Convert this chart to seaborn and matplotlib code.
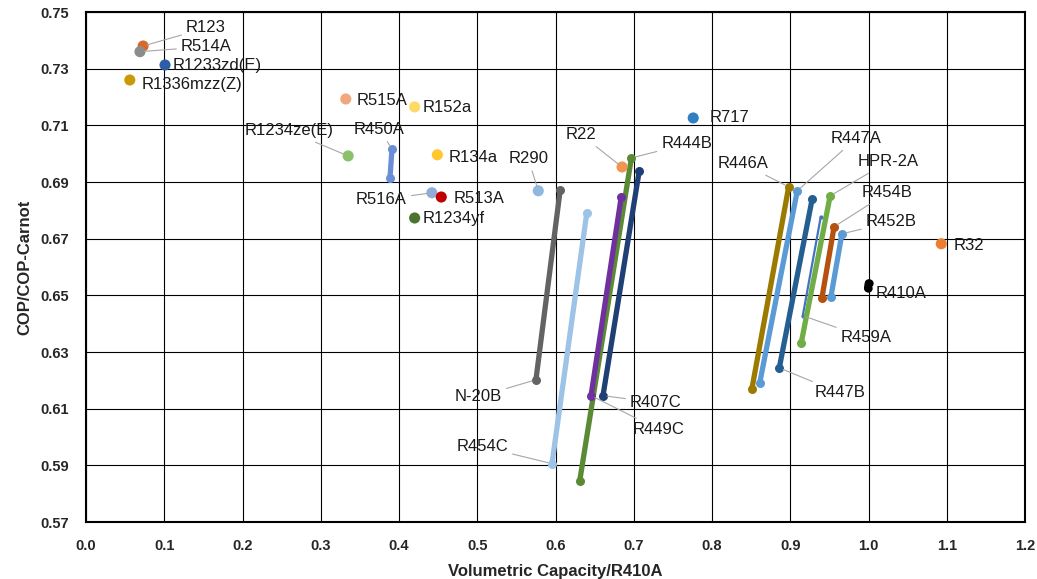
import pandas as pd
import matplotlib.pyplot as plt
import seaborn as sns

sns.set_theme(style="white")
plt.rcParams['font.family'] = ['Liberation Sans', 'DejaVu Sans']

# single refrigerants (points)
pt_names = ['R123', 'R514A', 'R1233zd(E)', 'R1336mzz(Z)', 'R515A', 'R152a', 'R1234ze(E)',
            'R134a', 'R516A', 'R513A', 'R1234yf', 'R290', 'R22', 'R717', 'R32']
pt_cap = [0.073, 0.069, 0.101, 0.056, 0.332, 0.420, 0.335,
          0.449, 0.442, 0.454, 0.420, 0.578, 0.685, 0.776, 1.093]
pt_cop = [0.738, 0.736, 0.7313, 0.726, 0.7193, 0.7165, 0.6992,
          0.6996, 0.6862, 0.6847, 0.6773, 0.6869, 0.6953, 0.7126, 0.6682]
pt_colors = ['#D9692B', '#8C8C8C', '#2E5DA8', '#C99A06', '#F0A77D', '#FFD966', '#8CC16B',
             '#FFC62E', '#93ABD9', '#C00000', '#4C7330', '#8FB8E0', '#F29552', '#2F7FC1', '#ED7D31']

# blends (glide lines: top end / bottom end)
ln_names = ['R450A', 'N-20B', 'R454C', 'R444B', 'R449C', 'R407C', 'R446A', 'R447A',
            'R447B', 'R459A', 'HPR-2A', 'R454B', 'R452B', 'R410A']
ln_cap_top = [0.391, 0.606, 0.640, 0.697, 0.684, 0.707, 0.898, 0.909,
              0.928, 0.939, 0.951, 0.956, 0.966, 1.000]
ln_cop_top = [0.7017, 0.6872, 0.6791, 0.6985, 0.6847, 0.6939, 0.6883, 0.6869,
              0.6840, 0.6777, 0.6851, 0.6742, 0.6717, 0.6543]
ln_cap_bot = [0.3885, 0.575, 0.5955, 0.631, 0.6454, 0.6607, 0.851, 0.861,
              0.886, 0.916, 0.914, 0.9405, 0.952, 0.999]
ln_cop_bot = [0.6914, 0.6202, 0.5906, 0.5846, 0.6146, 0.6146, 0.6170, 0.6191,
              0.6244, 0.6428, 0.6332, 0.6491, 0.6495, 0.6525]
ln_colors = ['#6A8FD4', '#636363', '#9DC3E6', '#5A8A34', '#7030A0', '#1F3F75', '#9C7A00', '#5B9BD5',
             '#255E91', '#4472C4', '#70AD47', '#B5520F', '#5B9BD5', '#000000']

x_ticks = [0.0, 0.1, 0.2, 0.3, 0.4, 0.5, 0.6, 0.7, 0.8, 0.9, 1.0, 1.1, 1.2]
y_ticks = [0.57, 0.59, 0.61, 0.63, 0.65, 0.67, 0.69, 0.71, 0.73, 0.75]

# label placement: (end of line to anchor, dx px, dy px, align, leader line)
labels = {
    'R123': ('top', 43, 18, 'left', True),
    'R514A': ('top', 41, 5, 'left', True),
    'R1233zd(E)': ('top', 8, -1, 'left', False),
    'R1336mzz(Z)': ('top', 12, -5, 'left', False),
    'R515A': ('top', 11, -2, 'left', False),
    'R152a': ('top', 8, -1, 'left', False),
    'R1234ze(E)': ('top', -15, 25, 'right', True),
    'R450A': ('top', -38, 19, 'left', True),
    'R134a': ('top', 11, -3, 'left', False),
    'R516A': ('top', -25, -7, 'right', True),
    'R513A': ('top', 12, -1, 'left', False),
    'R1234yf': ('top', 8, -1, 'left', False),
    'R290': ('top', -30, 32, 'left', True),
    'R22': ('top', -56, 32, 'left', True),
    'R444B': ('top', 30, 14, 'left', True),
    'R717': ('top', 16, 0, 'left', False),
    'R446A': ('top', -71, 23, 'left', True),
    'R447A': ('top', 33, 52, 'left', True),
    'HPR-2A': ('top', 27, 34, 'left', True),
    'R454B': ('top', 28, 34, 'left', True),
    'R452B': ('top', 24, 12, 'left', True),
    'R32': ('top', 12, -2, 'left', False),
    'R410A': ('bot', 8, -5, 'left', False),
    'R459A': ('bot', 38, -22, 'left', True),
    'R447B': ('bot', 35, -25, 'left', True),
    'N-20B': ('bot', -34, -17, 'right', True),
    'R407C': ('bot', 27, -7, 'left', True),
    'R449C': ('bot', 42, -34, 'left', True),
    'R454C': ('bot', -44, 17, 'right', True),
}

fig = plt.figure(figsize=(10.37, 5.79), dpi=100)
ax = fig.add_axes([86 / 1037, 1 - 522 / 579, 939 / 1037, 510 / 579])

for i, name in enumerate(ln_names):
    lw, ms = 3.8, 6.5
    if name == 'R459A':
        lw, ms = 1.6, 3
    elif name == 'R410A':
        lw, ms = 5.5, 6
    sns.lineplot(x=[ln_cap_bot[i], ln_cap_top[i]], y=[ln_cop_bot[i], ln_cop_top[i]],
                 estimator=None, sort=False,
                 color=ln_colors[i], lw=lw, marker='o', markersize=ms, markeredgewidth=0,
                 solid_capstyle='round', ax=ax, zorder=3)

pts = pd.DataFrame({'name': pt_names, 'cap': pt_cap, 'cop': pt_cop})
sns.scatterplot(data=pts, x='cap', y='cop', hue='name', palette=dict(zip(pt_names, pt_colors)),
                s=64, edgecolor='none', legend=False, ax=ax, zorder=4)

anchors = {n: {'top': (x, y), 'bot': (x, y)} for n, x, y in zip(pt_names, pt_cap, pt_cop)}
for i, n in enumerate(ln_names):
    anchors[n] = {'top': (ln_cap_top[i], ln_cop_top[i]), 'bot': (ln_cap_bot[i], ln_cop_bot[i])}

for name, (end, dx, dy, ha, leader) in labels.items():
    arrow = dict(arrowstyle='-', color='#A6A6A6', lw=0.8, shrinkA=1, shrinkB=3) if leader else None
    ax.annotate(name, xy=anchors[name][end], xytext=(dx, dy), textcoords='offset pixels',
                ha=ha, va='center', fontsize=12, color='#1A1A1A', arrowprops=arrow, zorder=5)

ax.set_xlim(0, 1.2)
ax.set_ylim(0.57, 0.75)
ax.set_xticks(x_ticks)
ax.set_yticks(y_ticks)
ax.set_xticklabels([f'{v:.1f}' for v in x_ticks], fontweight='bold', fontsize=10.5)
ax.set_yticklabels([f'{v:.2f}' for v in y_ticks], fontweight='bold', fontsize=10.5)
ax.tick_params(length=0, pad=12)
ax.grid(True, color='#000000', lw=0.8)
ax.set_axisbelow(True)
for s in ax.spines.values():
    s.set_color('black')
    s.set_linewidth(1.5)

ax.set_xlabel('Volumetric Capacity/R410A', fontweight='bold', fontsize=12, labelpad=8)
ax.set_ylabel('COP/COP-Carnot', fontweight='bold', fontsize=12, labelpad=6)

fig.savefig('out.png', dpi=100)
